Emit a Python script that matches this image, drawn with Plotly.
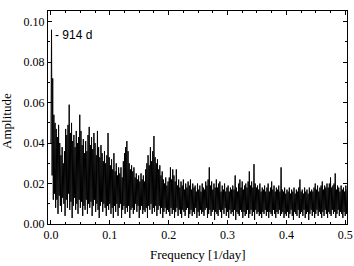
import plotly.graph_objects as go

# ---- data ----
FREQ_STEP = 0.002  # spacing of local maxima / minima pairs

# local maxima of the amplitude spectrum, at f = 0.001 + 0.002*i
peak_amp = [
    0.096, 0.072, 0.054, 0.050, 0.047, 0.043, 0.049, 0.040, 0.034, 0.038,
    0.030, 0.036, 0.047, 0.044, 0.049, 0.059, 0.045, 0.050, 0.041, 0.044,
    0.038, 0.046, 0.040, 0.043, 0.054, 0.046, 0.039, 0.042, 0.035, 0.041,
    0.036, 0.044, 0.048, 0.039, 0.043, 0.037, 0.045, 0.040, 0.034, 0.046,
    0.038, 0.033, 0.039, 0.035, 0.031, 0.036, 0.030, 0.034, 0.045, 0.033,
    0.029, 0.032, 0.027, 0.035, 0.026, 0.030, 0.024, 0.028, 0.025, 0.028,
    0.023, 0.031, 0.035, 0.038, 0.041, 0.036, 0.030, 0.027, 0.029, 0.026,
    0.028, 0.023, 0.025, 0.022, 0.024, 0.021, 0.025, 0.022, 0.024, 0.021,
    0.027, 0.030, 0.034, 0.029, 0.038, 0.031, 0.036, 0.0435, 0.033, 0.030,
    0.032, 0.027, 0.029, 0.024, 0.026, 0.022, 0.020, 0.023, 0.019, 0.021,
    0.023, 0.028, 0.022, 0.027, 0.024, 0.021, 0.027, 0.019, 0.022, 0.018,
    0.021, 0.019, 0.022, 0.017, 0.020, 0.018, 0.021, 0.019, 0.022, 0.017,
    0.020, 0.018, 0.019, 0.016, 0.020, 0.017, 0.019, 0.016, 0.020, 0.018,
    0.017, 0.021, 0.019, 0.022, 0.028, 0.019, 0.021, 0.017, 0.020, 0.018,
    0.022, 0.018, 0.020, 0.021, 0.016, 0.019, 0.017, 0.020, 0.016, 0.018,
    0.019, 0.016, 0.018, 0.017, 0.019, 0.017, 0.024, 0.018, 0.016, 0.020,
    0.022, 0.018, 0.021, 0.017, 0.019, 0.020, 0.018, 0.021, 0.026, 0.019,
    0.021, 0.018, 0.0296, 0.020, 0.018, 0.019, 0.017, 0.020, 0.016, 0.018,
    0.017, 0.019, 0.016, 0.018, 0.020, 0.016, 0.018, 0.021, 0.017, 0.019,
    0.016, 0.018, 0.017, 0.019, 0.016, 0.028, 0.017, 0.016, 0.018, 0.015,
    0.017, 0.016, 0.018, 0.015, 0.017, 0.016, 0.018, 0.015, 0.017, 0.016,
    0.018, 0.022, 0.016, 0.017, 0.015, 0.018, 0.016, 0.017, 0.015, 0.018,
    0.016, 0.017, 0.016, 0.018, 0.020, 0.017, 0.019, 0.016, 0.018, 0.019,
    0.021, 0.017, 0.019, 0.018, 0.020, 0.018, 0.020, 0.023, 0.018, 0.019,
    0.020, 0.025, 0.017, 0.019, 0.018, 0.016, 0.019, 0.017, 0.018, 0.016,
    0.019, 0.017,
]

# local minima of the amplitude spectrum, at f = 0.002*i
trough_amp = [
    0.040, 0.024, 0.012, 0.015, 0.008, 0.012, 0.005, 0.014, 0.009, 0.006,
    0.013, 0.010, 0.004, 0.012, 0.008, 0.015, 0.007, 0.011, 0.003, 0.009,
    0.013, 0.007, 0.010, 0.005, 0.012, 0.008, 0.011, 0.004, 0.009, 0.007,
    0.012, 0.005, 0.010, 0.008, 0.011, 0.004, 0.009, 0.012, 0.006, 0.010,
    0.007, 0.003, 0.009, 0.011, 0.006, 0.010, 0.008, 0.004, 0.009, 0.007,
    0.010, 0.005, 0.008, 0.003, 0.009, 0.006, 0.010, 0.004, 0.008, 0.010,
    0.003, 0.007, 0.009, 0.005, 0.008, 0.006, 0.009, 0.003, 0.007, 0.008,
    0.005, 0.007, 0.010, 0.006, 0.009, 0.003, 0.007, 0.009, 0.005, 0.007,
    0.006, 0.008, 0.003, 0.009, 0.007, 0.010, 0.005, 0.008, 0.006, 0.009,
    0.004, 0.007, 0.009, 0.005, 0.008, 0.003, 0.006, 0.008, 0.005, 0.007,
    0.006, 0.004, 0.008, 0.005, 0.007, 0.003, 0.006, 0.008, 0.004, 0.007,
    0.005, 0.003, 0.007, 0.006, 0.004, 0.007, 0.008, 0.003, 0.005, 0.007,
    0.004, 0.006, 0.005, 0.008, 0.003, 0.006, 0.004, 0.007, 0.005, 0.006,
    0.004, 0.007, 0.008, 0.003, 0.005, 0.007, 0.004, 0.006, 0.007, 0.002,
    0.006, 0.005, 0.004, 0.007, 0.006, 0.003, 0.007, 0.005, 0.008, 0.004,
    0.006, 0.003, 0.007, 0.005, 0.006, 0.004, 0.007, 0.002, 0.006, 0.005,
    0.004, 0.007, 0.006, 0.003, 0.006, 0.004, 0.005, 0.007, 0.003, 0.005,
    0.007, 0.004, 0.006, 0.002, 0.007, 0.005, 0.006, 0.004, 0.005, 0.003,
    0.006, 0.005, 0.007, 0.004, 0.006, 0.003, 0.006, 0.005, 0.004, 0.007,
    0.005, 0.003, 0.006, 0.005, 0.007, 0.004, 0.005, 0.006, 0.003, 0.005,
    0.004, 0.006, 0.003, 0.005, 0.007, 0.004, 0.002, 0.006, 0.005, 0.004,
    0.007, 0.003, 0.005, 0.006, 0.004, 0.007, 0.003, 0.005, 0.006, 0.002,
    0.005, 0.007, 0.004, 0.006, 0.003, 0.005, 0.007, 0.004, 0.006, 0.005,
    0.003, 0.006, 0.004, 0.007, 0.005, 0.003, 0.006, 0.005, 0.004, 0.007,
    0.005, 0.006, 0.003, 0.005, 0.007, 0.004, 0.006, 0.005, 0.003, 0.006,
    0.004, 0.005,
]

x_tick_vals = [0.0, 0.1, 0.2, 0.3, 0.4, 0.5]
x_tick_text = ["0.0", "0.1", "0.2", "0.3", "0.4", "0.5"]
y_tick_vals = [0.00, 0.02, 0.04, 0.06, 0.08, 0.10]
y_tick_text = ["0.00", "0.02", "0.04", "0.06", "0.08", "0.10"]

x_title = "Frequency [1/day]"
y_title = "Amplitude"
peak_label = "- 914 d"
peak_label_freq = 0.004
peak_label_amp = 0.0935

# ---- interleave minima and maxima into one spectrum ----
freq = []
amp = []
for i in range(len(trough_amp)):
    freq.append(round(FREQ_STEP * i, 5))
    amp.append(trough_amp[i])
    if i < len(peak_amp):
        freq.append(round(FREQ_STEP * i + FREQ_STEP / 2, 5))
        amp.append(peak_amp[i])

fig = go.Figure()
fig.add_trace(go.Scatter(
    x=freq, y=amp, mode="lines",
    line=dict(color="black", width=1.0, simplify=False),
    hoverinfo="skip", showlegend=False,
))

serif = "Liberation Serif, Times New Roman, serif"

fig.add_annotation(
    x=peak_label_freq, y=peak_label_amp, text=peak_label,
    showarrow=False, xanchor="left", yanchor="middle",
    font=dict(family="Liberation Sans, Arial, sans-serif", size=12, color="black"),
)
fig.add_annotation(
    xref="paper", yref="paper", x=0.502, y=-0.142, text=x_title,
    showarrow=False, xanchor="center", yanchor="middle",
    font=dict(family=serif, size=13, color="black"),
)
fig.add_annotation(
    xref="paper", yref="paper", x=-0.137, y=0.484, text=y_title, textangle=-90,
    showarrow=False, xanchor="center", yanchor="middle",
    font=dict(family=serif, size=13, color="black"),
)

axis_common = dict(
    showline=True, linecolor="black", linewidth=1,
    mirror="allticks", ticks="inside", tickcolor="black",
    ticklen=4, tickwidth=1, showgrid=False, zeroline=False,
    automargin=False,
    tickfont=dict(family=serif, size=12, color="black"),
)

fig.update_xaxes(
    range=[-0.005, 0.503],
    tickvals=x_tick_vals, ticktext=x_tick_text,
    minor=dict(ticks="inside", ticklen=2, tickcolor="black", dtick=0.025, tick0=0, showgrid=False),
    **axis_common,
)
fig.update_yaxes(
    range=[0, 0.1053],
    tickvals=y_tick_vals, ticktext=y_tick_text,
    minor=dict(ticks="inside", ticklen=2, tickcolor="black", dtick=0.01, tick0=0, showgrid=False),
    **axis_common,
)

fig.update_layout(
    width=354, height=266,
    margin=dict(l=48, r=7, t=11, b=42),
    paper_bgcolor="white", plot_bgcolor="white",
)

fig.write_html(
    "out.html",
    config={"displayModeBar": False},
    post_script="document.body.style.margin='0';document.body.style.padding='0';",
)
